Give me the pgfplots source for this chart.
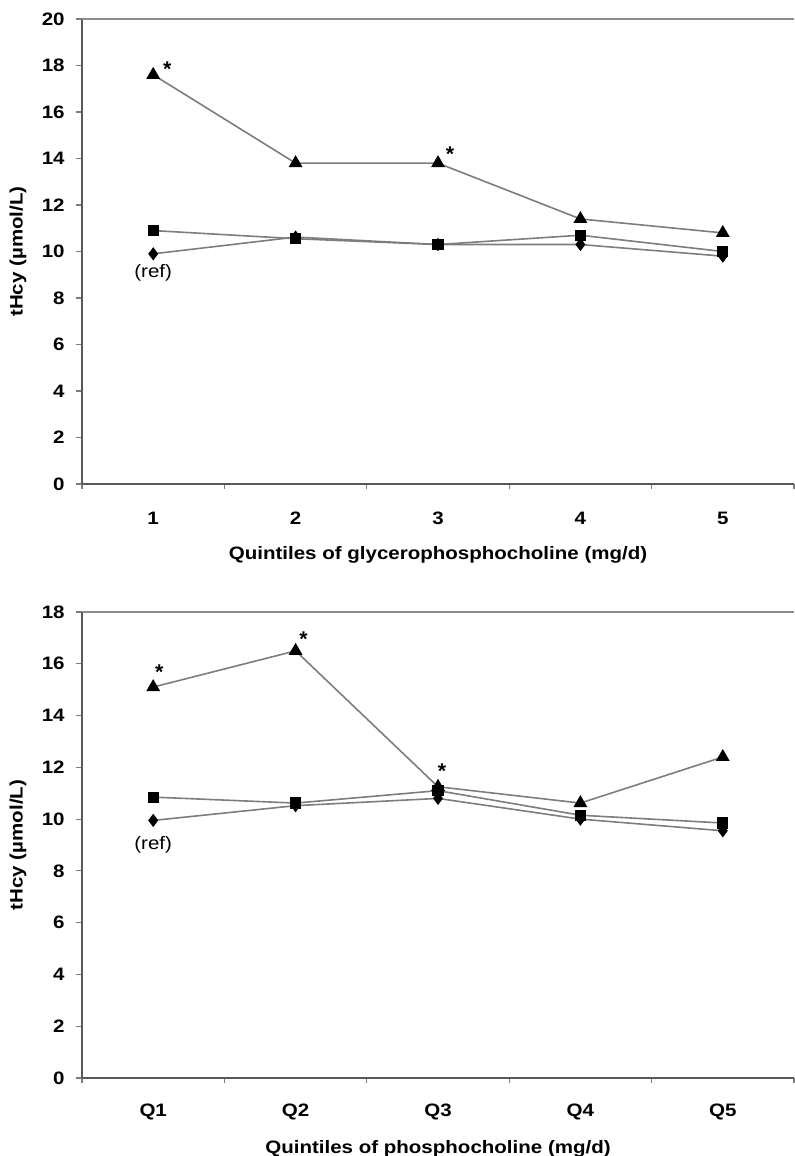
\documentclass[border=0pt]{standalone}
\usepackage{pgfplots}
\pgfplotsset{compat=1.18}
\usepackage{pgfplotstable}
\usepackage{fontspec}
\setmainfont{Liberation Sans}
\newfontfamily\labfont[FakeStretch=1.14]{Liberation Sans}
\definecolor{ln}{RGB}{125,125,125}

\pgfplotstableread{
x T S D
1 17.6 10.9 9.9
2 13.8 10.55 10.62
3 13.8 10.3 10.3
4 11.4 10.7 10.3
5 10.8 10.0 9.8
}\topdata

\pgfplotstableread{
x T S D
1 15.1 10.85 9.95
2 16.5 10.62 10.52
3 11.25 11.1 10.8
4 10.62 10.15 10.0
5 12.4 9.85 9.55
}\botdata

\tikzset{
  astk/.style={font=\bfseries\fontsize{16}{16}\selectfont, inner sep=0pt},
  reflab/.style={font=\labfont\fontsize{13.5}{15}\selectfont},
}

\pgfplotsset{
  myax/.style={
    scale only axis,
    width=534pt,
    xmin=0.5, xmax=5.5, ymin=0,
    axis lines*=left,
    xtick={1,2,3,4,5},
    major x tick style={draw=none},
    minor xtick={0.5,1.5,2.5,3.5,4.5,5.5},
    minor tick length=3.5pt,
    major tick length=4.5pt,
    tick align=outside,
    tick style={ln, line width=0.8pt},
    axis line style={black!65, line width=1.1pt},
    ytick distance=2,
    ticklabel style={font=\labfont\bfseries\fontsize{13.5}{15}\selectfont},
    yticklabel style={xshift=-5pt},
    xticklabel style={anchor=center, yshift=-21pt},
    /pgf/number format/assume math mode=true,
    label style={font=\labfont\bfseries\fontsize{13.5}{15}\selectfont},
    xlabel style={at={(axis description cs:0.5,0)}, anchor=center, yshift=-53pt},
    ylabel style={at={(axis description cs:-0.0899,0.5)}, anchor=center},
    ylabel={tHcy (µmol/L)},
    clip=false,
  },
  tri/.style={ln, line width=1.2pt, mark=triangle*, mark size=4.8pt, mark options={black, fill=black, solid}},
  sq/.style={ln, line width=1.2pt, mark=square*, mark size=3.6pt, mark options={black, fill=black, solid}},
  dia/.style={ln, line width=1.2pt, mark=diamond*, mark size=4pt, mark options={black, fill=black, solid}},
}

\begin{document}
\begin{tikzpicture}
\path[use as bounding box] (0,0) rectangle (596.25pt,-867pt);

\begin{axis}[myax, at={(61.5pt,-14.25pt)}, anchor=north west,
  height=348.75pt, ymax=20,
  xlabel={Quintiles of glycerophosphocholine (mg/d)}]
  \draw[black!45, line width=1.1pt] (rel axis cs:0,1) -- (rel axis cs:1,1);
  \addplot[tri] table[x=x,y=T]{\topdata};
  \addplot[sq] table[x=x,y=S]{\topdata};
  \addplot[dia] table[x=x,y=D]{\topdata};
  \node[astk, xshift=10.5pt, yshift=4.5pt] at (axis cs:1,17.6) {*};
  \node[astk, xshift=9pt, yshift=6.5pt] at (axis cs:3,13.8) {*};
  \node[reflab, yshift=-14.25pt] at (axis cs:1,9.9) {(ref)};
\end{axis}

\begin{axis}[myax, at={(61.5pt,-459pt)}, anchor=north west,
  height=349.5pt, ymax=18,
  xticklabels={Q1,Q2,Q3,Q4,Q5},
  xlabel={Quintiles of phosphocholine (mg/d)}]
  \draw[black!45, line width=1.1pt] (rel axis cs:0,1) -- (rel axis cs:1,1);
  \addplot[tri] table[x=x,y=T]{\botdata};
  \addplot[sq] table[x=x,y=S]{\botdata};
  \addplot[dia] table[x=x,y=D]{\botdata};
  \node[astk, xshift=4.5pt, yshift=11.5pt] at (axis cs:1,15.1) {*};
  \node[astk, xshift=6pt, yshift=8.5pt] at (axis cs:2,16.5) {*};
  \node[astk, xshift=3pt, yshift=11.5pt] at (axis cs:3,11.25) {*};
  \node[reflab, yshift=-18pt] at (axis cs:1,9.95) {(ref)};
\end{axis}
\end{tikzpicture}
\end{document}
